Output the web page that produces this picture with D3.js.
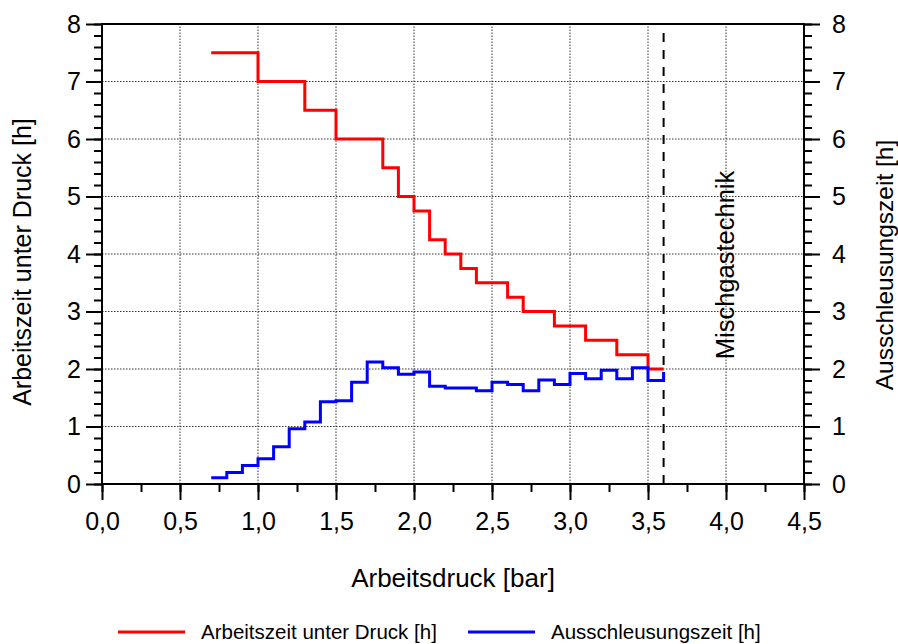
<!DOCTYPE html>
<html>
<head>
<meta charset="utf-8">
<script src="https://cdn.jsdelivr.net/npm/d3@7"></script>
<style>
  body { margin: 0; background: #fff; }
  text { font-family: "Liberation Sans", Arial, sans-serif; fill: #000; }
</style>
</head>
<body>
<div id="viz"></div>
<script>
// chart data
var pressureRed = [0.7, 1.0, 1.3, 1.5, 1.8, 1.9, 2.0, 2.1, 2.2, 2.3, 2.4, 2.6, 2.7, 2.9, 3.1, 3.3, 3.5, 3.6];
var arbeitszeit = [7.5, 7.0, 6.5, 6.0, 5.5, 5.0, 4.75, 4.25, 4.0, 3.75, 3.5, 3.25, 3.0, 2.75, 2.5, 2.25, 2.0, 2.0];

var pressureBlue = [0.7, 0.8, 0.9, 1.0, 1.1, 1.2, 1.3, 1.4, 1.5, 1.6, 1.7, 1.8, 1.9, 2.0, 2.1,
                    2.2, 2.3, 2.4, 2.5, 2.6, 2.7, 2.8, 2.9, 3.0, 3.1, 3.2, 3.3, 3.4, 3.5, 3.6];
var ausschleusung = [0.11, 0.2, 0.32, 0.44, 0.65, 0.96, 1.08, 1.43, 1.45, 1.77, 2.12, 2.02, 1.91, 1.95, 1.70,
                     1.67, 1.67, 1.62, 1.77, 1.73, 1.62, 1.81, 1.73, 1.92, 1.83, 1.98, 1.83, 2.02, 1.80, 1.95];

var xTicks = [0, 0.5, 1.0, 1.5, 2.0, 2.5, 3.0, 3.5, 4.0, 4.5];
var yTicks = [0, 1, 2, 3, 4, 5, 6, 7, 8];
var mischgasLimit = 3.6;

var seriesNames = ["Arbeitszeit unter Druck [h]", "Ausschleusungszeit [h]"];
var seriesColors = ["#ff0000", "#0000ff"];

// dimensions
var width = 898, height = 644;
var margin = {top: 24, right: 94, bottom: 160, left: 102};

var svg = d3.select("#viz").append("svg")
  .attr("width", width)
  .attr("height", height);

var x = d3.scaleLinear().domain([0, 4.5]).range([margin.left, width - margin.right]);
var y = d3.scaleLinear().domain([0, 8]).range([height - margin.bottom, margin.top]);

var deLocale = d3.formatLocale({decimal: ",", thousands: ".", grouping: [3], currency: ["", " €"]});
var fmt = deLocale.format(".1f");

// dotted grid
svg.append("g").selectAll("line")
  .data(xTicks.slice(1, -1))
  .enter().append("line")
  .attr("x1", d => x(d)).attr("x2", d => x(d))
  .attr("y1", y(0)).attr("y2", y(8))
  .attr("stroke", "#333").attr("stroke-width", 1).attr("stroke-dasharray", "1.5,1.5");

svg.append("g").selectAll("line")
  .data(yTicks.slice(1, -1))
  .enter().append("line")
  .attr("x1", x(0)).attr("x2", x(4.5))
  .attr("y1", d => y(d)).attr("y2", d => y(d))
  .attr("stroke", "#333").attr("stroke-width", 1).attr("stroke-dasharray", "1.5,1.5");

// axes: minor ticks first, then major with labels
function styleAxis(g) {
  g.select(".domain").remove();
  g.selectAll("line").attr("stroke", "#000").attr("stroke-width", 2);
  g.selectAll("text").style("font-size", "25px");
}

var minorY = d3.range(0, 41).map(d => d / 5);
var minorX = d3.range(0, 19).map(d => d / 4);

svg.append("g")
  .attr("transform", "translate(" + x(0) + ",0)")
  .call(d3.axisLeft(y).tickValues(minorY).tickSize(8).tickFormat(""))
  .call(styleAxis);
svg.append("g")
  .attr("transform", "translate(" + x(0) + ",0)")
  .call(d3.axisLeft(y).tickValues(yTicks).tickSize(16).tickPadding(5).tickFormat(d3.format("d")))
  .call(styleAxis);

svg.append("g")
  .attr("transform", "translate(" + x(4.5) + ",0)")
  .call(d3.axisRight(y).tickValues(minorY).tickSize(8).tickFormat(""))
  .call(styleAxis);
svg.append("g")
  .attr("transform", "translate(" + x(4.5) + ",0)")
  .call(d3.axisRight(y).tickValues(yTicks).tickSize(16).tickPadding(12).tickFormat(d3.format("d")))
  .call(styleAxis);

svg.append("g")
  .attr("transform", "translate(0," + y(0) + ")")
  .call(d3.axisBottom(x).tickValues(minorX).tickSize(8).tickFormat(""))
  .call(styleAxis);
svg.append("g")
  .attr("transform", "translate(0," + y(0) + ")")
  .call(d3.axisBottom(x).tickValues(xTicks).tickSize(16).tickPadding(12).tickFormat(fmt))
  .call(styleAxis);

// frame
svg.append("rect")
  .attr("x", x(0)).attr("y", y(8))
  .attr("width", x(4.5) - x(0)).attr("height", y(0) - y(8))
  .attr("fill", "none").attr("stroke", "#000").attr("stroke-width", 2);

// Mischgas boundary
svg.append("line")
  .attr("x1", x(mischgasLimit)).attr("x2", x(mischgasLimit))
  .attr("y1", y(0)).attr("y2", y(8))
  .attr("stroke", "#000").attr("stroke-width", 2).attr("stroke-dasharray", "9,8");

svg.append("text")
  .attr("transform", "translate(" + 734 + "," + 265 + ") rotate(-90)")
  .attr("text-anchor", "middle")
  .style("font-size", "25.5px")
  .text("Mischgastechnik");

// step lines
var line = d3.line()
  .x(d => x(d[0]))
  .y(d => y(d[1]))
  .curve(d3.curveStepAfter);

svg.append("path")
  .datum(d3.zip(pressureRed, arbeitszeit))
  .attr("d", line)
  .attr("fill", "none")
  .attr("stroke", seriesColors[0])
  .attr("stroke-width", 3);

svg.append("path")
  .datum(d3.zip(pressureBlue, ausschleusung))
  .attr("d", line)
  .attr("fill", "none")
  .attr("stroke", seriesColors[1])
  .attr("stroke-width", 3);

// axis titles
svg.append("text")
  .attr("x", (x(0) + x(4.5)) / 2).attr("y", 587)
  .attr("text-anchor", "middle")
  .style("font-size", "26px")
  .text("Arbeitsdruck [bar]");

svg.append("text")
  .attr("transform", "translate(" + 31 + "," + 262 + ") rotate(-90)")
  .attr("text-anchor", "middle")
  .style("font-size", "25px")
  .text("Arbeitszeit unter Druck [h]");

svg.append("text")
  .attr("transform", "translate(" + 893 + "," + 265 + ") rotate(-90)")
  .attr("text-anchor", "middle")
  .style("font-size", "24.5px")
  .text("Ausschleusungszeit [h]");

// legend
var legendX = [118, 468];
var legend = svg.append("g").selectAll("g")
  .data(seriesNames)
  .enter().append("g")
  .attr("transform", (d, i) => "translate(" + legendX[i] + ",632)");

legend.append("line")
  .attr("x1", 0).attr("x2", 67)
  .attr("y1", 0).attr("y2", 0)
  .attr("stroke", (d, i) => seriesColors[i])
  .attr("stroke-width", 3);

legend.append("text")
  .attr("x", 83).attr("y", 7)
  .style("font-size", "20.5px")
  .text(d => d);
</script>
</body>
</html>
